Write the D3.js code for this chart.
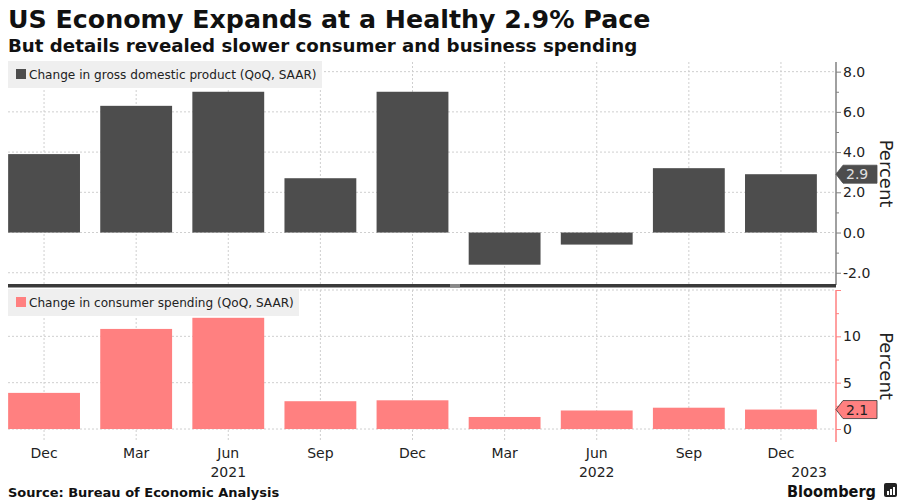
<!DOCTYPE html>
<html>
<head>
<meta charset="utf-8">
<script src="https://cdn.jsdelivr.net/npm/d3@7"></script>
<style>
  body { margin: 0; background: #fff; }
  text { font-family: "DejaVu Sans", Verdana, sans-serif; }
</style>
</head>
<body>
<div class="holder"></div>
<script>
// data
var quarters = ['2020Q4', '2021Q1', '2021Q2', '2021Q3', '2021Q4', '2022Q1', '2022Q2', '2022Q3', '2022Q4']
var monthLabels = ['Dec', 'Mar', 'Jun', 'Sep', 'Dec', 'Mar', 'Jun', 'Sep', 'Dec']
var gdp = [3.9, 6.3, 7.0, 2.7, 7.0, -1.6, -0.6, 3.2, 2.9]
var consumer = [3.9, 10.8, 12.0, 3.0, 3.1, 1.3, 2.0, 2.3, 2.1]
var years = ['2021', '2022', '2023']
var yearAt = ['2021Q2', '2022Q2', 'end']
var gdpTicks = [-2, 0, 2, 4, 6, 8]
var gdpMinor = [-1, 1, 3, 5, 7]
var conTicks = [0, 5, 10, 15]
var conMinor = [2.5, 7.5, 12.5]

var dark = '#4d4d4d', pink = '#ff8080'
var axisX = 836

var svg = d3.select('.holder')
  .append('svg')
  .attr('width', 900)
  .attr('height', 502)

var x = d3.scaleBand()
  .domain(quarters)
  .range([-2, 827])
  .paddingInner(0.22)
  .paddingOuter(0.11)

var yTop = d3.scaleLinear().domain([-2.56, 8.48]).range([284, 62])
var yBot = d3.scaleLinear().domain([-1.4, 15]).range([442, 290])

// titles
svg.append('text').attr('x', 8).attr('y', 28)
  .style('font-size', '25.3px').style('font-weight', 'bold').attr('fill', '#111')
  .text('US Economy Expands at a Healthy 2.9% Pace')
svg.append('text').attr('x', 8).attr('y', 52)
  .style('font-size', '18.2px').style('font-weight', 'bold').attr('fill', '#111')
  .text('But details revealed slower consumer and business spending')

function panel(y, values, color, ticks, minor, fmt, top, bottom, legendText, legendW, flagFill, flagText, flagStroke) {
  var g = svg.append('g')
  var lineCol = color === pink ? pink : '#808080'

  // grid
  g.selectAll('.hgrid').data(ticks).enter().append('line')
    .attr('x1', 8).attr('x2', axisX)
    .attr('y1', function(d) { return y(d) }).attr('y2', function(d) { return y(d) })
    .attr('stroke', '#cfcfcf').attr('stroke-dasharray', '2,2')
  g.selectAll('.vgrid').data(quarters).enter().append('line')
    .attr('x1', function(d) { return x(d) + x.bandwidth() / 2 })
    .attr('x2', function(d) { return x(d) + x.bandwidth() / 2 })
    .attr('y1', top).attr('y2', bottom)
    .attr('stroke', '#cfcfcf').attr('stroke-dasharray', '2,2')

  // bars
  g.selectAll('.bar').data(values).enter().append('rect')
    .attr('x', function(d, i) { return x(quarters[i]) })
    .attr('width', x.bandwidth())
    .attr('y', function(d) { return y(Math.max(0, d)) })
    .attr('height', function(d) { return Math.abs(y(d) - y(0)) })
    .attr('fill', color)

  // legend box
  g.append('rect').attr('x', 8).attr('y', top - 1).attr('width', legendW).attr('height', 27).attr('fill', '#efefef')
  g.append('rect').attr('x', 16).attr('y', top + 7).attr('width', 10).attr('height', 10).attr('fill', color)
  g.append('text').attr('x', 29).attr('y', top + 12.5).attr('dy', '0.35em')
    .style('font-size', '12.1px').attr('fill', '#222').text(legendText)

  // right axis
  var axis = d3.axisRight(y).tickValues(ticks).tickSize(5).tickPadding(2).tickFormat(fmt)
  var ax = g.append('g').attr('transform', 'translate(' + axisX + ',0)').call(axis)
  ax.select('.domain').remove()
  ax.selectAll('.tick line').attr('stroke', lineCol)
  ax.selectAll('.tick text').style('font-size', '14px').attr('fill', '#222')
  var axm = d3.axisRight(y).tickValues(minor).tickSize(3).tickFormat('')
  var mx = g.append('g').attr('transform', 'translate(' + axisX + ',0)').call(axm)
  mx.select('.domain').remove()
  mx.selectAll('.tick line').attr('stroke', lineCol)

  g.append('line').attr('x1', axisX).attr('x2', axisX).attr('y1', top).attr('y2', bottom)
    .attr('stroke', lineCol).attr('stroke-width', 1.5)

  // last value flag
  var last = values[values.length - 1]
  var fy = y(last)
  g.append('polygon')
    .attr('points', [[axisX, fy], [843, fy - 9], [877, fy - 9], [877, fy + 9], [843, fy + 9]].join(' '))
    .attr('fill', flagFill).attr('stroke', flagStroke).attr('stroke-width', 0.8)
  g.append('text').attr('x', 846).attr('y', fy).attr('dy', '0.36em')
    .style('font-size', '14px').attr('fill', flagText).text(last.toFixed(1))

  // unit label
  g.append('text')
    .attr('transform', 'translate(880,' + ((top + bottom) / 2) + ') rotate(90)')
    .attr('text-anchor', 'middle')
    .style('font-size', '18px').attr('fill', '#222').text('Percent')
  return g
}

panel(yTop, gdp, dark, gdpTicks, gdpMinor, function(d) { return d.toFixed(1) }, 62, 285,
  'Change in gross domestic product (QoQ, SAAR)', 314, dark, '#e0e0e0', dark)
panel(yBot, consumer, pink, conTicks, conMinor, function(d) { return d === 15 ? '' : d }, 290, 442,
  'Change in consumer spending (QoQ, SAAR)', 291, pink, '#222', '#333')

// panel separator
svg.append('rect').attr('x', 8).attr('y', 284).attr('width', axisX - 8).attr('height', 3.5).attr('fill', '#3a3a3a')
svg.append('rect').attr('x', 450).attr('y', 284).attr('width', 10).attr('height', 3.5).attr('fill', '#888')

// x axis labels
svg.selectAll('.mon').data(quarters).enter().append('text')
  .attr('x', function(d) { return x(d) + x.bandwidth() / 2 })
  .attr('y', 458)
  .attr('text-anchor', 'middle')
  .style('font-size', '14px').attr('fill', '#222')
  .text(function(d, i) { return monthLabels[i] })
svg.selectAll('.yr').data(years).enter().append('text')
  .attr('x', function(d, i) { return yearAt[i] === 'end' ? x.range()[1] : x(yearAt[i]) + x.bandwidth() / 2 })
  .attr('y', 477)
  .attr('text-anchor', function(d, i) { return yearAt[i] === 'end' ? 'end' : 'middle' })
  .style('font-size', '14px').attr('fill', '#222')
  .text(function(d) { return d })

// footer
svg.append('text').attr('x', 8).attr('y', 497)
  .style('font-size', '13px').style('font-weight', 'bold').attr('fill', '#111')
  .text('Source: Bureau of Economic Analysis')
svg.append('text').attr('x', 787).attr('y', 497)
  .attr('textLength', 89).attr('lengthAdjust', 'spacingAndGlyphs')
  .style('font-size', '16.5px').style('font-weight', 'bold').attr('fill', '#111')
  .text('Bloomberg')
svg.append('rect').attr('x', 884).attr('y', 483).attr('width', 13).attr('height', 14).attr('rx', 2).attr('fill', '#222')
svg.selectAll('.logo').data([4, 7, 10]).enter().append('rect')
  .attr('x', function(d) { return 883 + d }).attr('y', function(d, i) { return 493 - i * 2 - 2 })
  .attr('width', 2).attr('height', function(d, i) { return i * 2 + 4 }).attr('fill', '#fff')
</script>
</body>
</html>
